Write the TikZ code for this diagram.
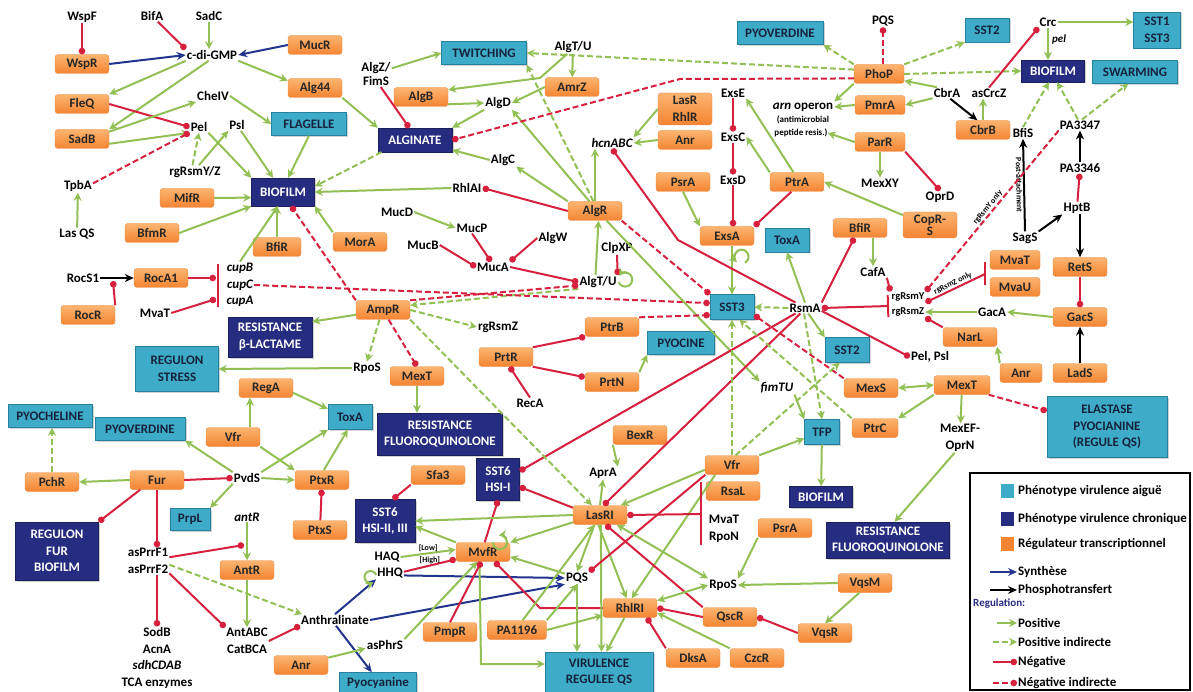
\documentclass[tikz,border=0pt]{standalone}
\usepackage{fontspec}
\setmainfont{Carlito}
\usetikzlibrary{arrows.meta,shadows}
\definecolor{vert}{RGB}{146,192,84}
\definecolor{rouge}{RGB}{214,32,62}
\definecolor{bleu}{RGB}{34,52,140}
\definecolor{oranL}{RGB}{252,180,112}
\definecolor{oranD}{RGB}{243,132,50}
\definecolor{oranB}{RGB}{236,138,66}
\definecolor{cyanF}{RGB}{62,172,200}
\definecolor{cyanB}{RGB}{38,128,158}
\definecolor{marine}{RGB}{38,44,128}
\definecolor{txtC}{RGB}{22,34,60}

\begin{document}
\begin{tikzpicture}[x=1pt,y=-1pt,
    every node/.style={font=\bfseries\fontsize{13}{16.5}\selectfont, inner sep=1pt, align=center},
    reg/.style={draw=oranB, top color=oranL, bottom color=oranD, rounded corners=3pt, minimum width=54pt, minimum height=19pt, text=black!85},
    aigu/.style={draw=cyanB, fill=cyanF, minimum width=44pt, minimum height=24pt, text=txtC, drop shadow={shadow xshift=1.5pt, shadow yshift=-1.5pt, fill=black!35}},
    chron/.style={draw=marine!70!black, fill=marine, text=white, minimum width=63pt, minimum height=24pt, drop shadow={shadow xshift=1.5pt, shadow yshift=-1.5pt, fill=black!35}},
    gene/.style={font=\bfseries\itshape\fontsize{13}{16.5}\selectfont},
    petit/.style={font=\bfseries\fontsize{10.5}{12}\selectfont},
    mini/.style={font=\bfseries\fontsize{8}{9}\selectfont, inner sep=0pt},
    act/.style={draw=vert, line width=2pt, -{Stealth[length=8pt,width=8pt]}},
    actd/.style={act, dash pattern=on 6pt off 3pt},
    inh/.style={draw=rouge, line width=2pt, -{Circle[length=6.5pt]}},
    inhd/.style={inh, dash pattern=on 6pt off 3pt},
    biact/.style={act, {Stealth[length=8pt,width=8pt]}-{Stealth[length=8pt,width=8pt]}},
    syn/.style={draw=bleu, line width=2pt, -{Stealth[length=9pt,width=8pt]}},
    pho/.style={draw=black, line width=2pt, -{Stealth[length=9pt,width=8pt]}},
    barre/.style={draw=rouge, line width=2.2pt}
]
    \fill[white] (0,0) rectangle (1193,692);
    \useasboundingbox (0,0) rectangle (1193,692);

    % haut gauche
    \node (wspF) at (82,17) {WspF};
    \node[reg] (wspR) at (82,64) {WspR};
    \node (bifA) at (152,16) {BifA};
    \node (sadC) at (209,16) {SadC};
    \node (cdiGMP) at (212,55) {c-di-GMP};
    \node[reg] (mucR) at (315,45) {MucR};
    \node[reg] (alg44) at (315,88) {Alg44};
    \node[reg] (fleQ) at (82,104) {FleQ};
    \node (cheIV) at (213,96) {CheIV};
    \node[reg] (sadB) at (82,139) {SadB};
    \node (pel) at (199,127) {Pel};
    \node (psl) at (237,125) {Psl};
    \node[aigu, minimum width=75pt, minimum height=23pt] (flagelle) at (309,124) {FLAGELLE};
    \node[chron, minimum height=28pt] (bioA) at (283,192) {BIOFILM};
    \node (rgYZ) at (195,172) {rgRsmY/Z};
    \node (tpbA) at (78,186) {TpbA};
    \node (lasQS) at (77,234) {Las QS};
    \node[reg] (mifR) at (187,198) {MifR};
    \node[reg] (bfmR) at (152,233) {BfmR};
    \node[reg, minimum width=48pt] (bfiRa) at (277,247) {BfiR};
    \node[reg] (morA) at (360,242) {MorA};

    % haut milieu
    \node (algZ) at (376,74) {AlgZ/\\[-2pt]FimS};
    \node[aigu, minimum width=85pt, minimum height=23pt] (twitch) at (484,53) {TWITCHING};
    \node (algTUa) at (573,47) {AlgT/U};
    \node[reg] (amrZ) at (572,87) {AmrZ};
    \node[reg] (algB) at (421,97) {AlgB};
    \node (algD) at (498,103) {AlgD};
    \node[chron, minimum width=74pt] (alginate) at (415,140) {ALGINATE};
    \node (algC) at (503,160) {AlgC};
    \node (rhlAI) at (467,188) {RhlAI};
    \node (mucD) at (397,212) {MucD};
    \node (mucP) at (472,228) {MucP};
    \node (mucB) at (423,245) {MucB};
    \node (mucA) at (493,267) {MucA};
    \node (algW) at (553,238) {AlgW};
    \node (clpXP) at (617,248) {ClpXP};
    \node (algTUb) at (598,282) {AlgT/U};
    \node[reg] (algR) at (595,211) {AlgR};
    \node[gene] (hcn) at (612,143) {hcnABC};
    \node[reg, minimum height=32pt] (lasRhlR) at (685,109) {LasR\\RhlR};
    \node[reg] (anrA) at (685,140) {Anr};
    \node (exsE) at (733,93) {ExsE};
    \node (exsC) at (733,137) {ExsC};
    \node (exsD) at (733,180) {ExsD};
    \node (arn) at (803,107) {\textit{arn} operon};
    \node[mini, font=\bfseries\fontsize{9}{10}\selectfont] (arnA) at (803,120) {(antimicrobial};
    \node[mini, font=\bfseries\fontsize{9}{10}\selectfont] (arnB) at (801,133) {peptide resis.)};
    \node[reg] (psrA) at (683,182) {PsrA};
    \node[reg] (ptrA) at (797,182) {PtrA};
    \node[reg] (exsA) at (727,236) {ExsA};
    \node[aigu] (toxAb) at (787,240) {ToxA};
    \node[reg] (bfiRb) at (860,228) {BfiR};
    \node (cafA) at (873,272) {CafA};
    \node[aigu, minimum height=25pt] (sst3) at (732,307) {SST3};
    \node (rsmA) at (805,308) {RsmA};
    \node[petit] (rgY) at (908,297) {rgRsmY};
    \node[petit] (rgZ) at (908,312) {rgRsmZ};
    \node[reg] (prtR) at (506,357) {PrtR};
    \node (recA) at (530,403) {RecA};
    \node[reg] (ptrB) at (612,327) {PtrB};
    \node[reg] (prtN) at (612,382) {PrtN};
    \node[aigu, minimum width=67pt, minimum height=23pt] (pyocine) at (681,343) {PYOCINE};
    \node (rgRsmZc) at (498,327) {rgRsmZ};
    \node[aigu, minimum height=25pt] (sst2b) at (847,350) {SST2};
    \node[gene] (fimTU) at (777,388) {fimTU};
    \node[reg] (mexS) at (871,388) {MexS};
    \node[aigu, minimum width=35pt, minimum height=25pt] (tfp) at (822,432) {TFP};
    \node[reg, minimum width=46pt] (ptrC) at (875,428) {PtrC};
    \node[reg] (bexR) at (640,435) {BexR};

    % haut droite
    \node[aigu, minimum width=86pt, minimum height=23pt] (pyoverdB) at (780,33) {PYOVERDINE};
    \node (pqsA) at (883,21) {PQS};
    \node[reg, minimum width=50pt] (phoP) at (879,74) {PhoP};
    \node[reg, minimum width=50pt] (pmrA) at (880,105) {PmrA};
    \node[reg, minimum width=50pt] (parR) at (880,142) {ParR};
    \node (mexXY) at (880,183) {MexXY};
    \node (oprD) at (940,197) {OprD};
    \node[reg, minimum height=26pt, font=\bfseries\fontsize{13}{12}\selectfont] (copRS) at (930,225) {CopR-\\S};
    \node[aigu] (sst2a) at (987,30) {SST2};
    \node (crc) at (1048,22) {Crc};
    \node[aigu, minimum width=47pt, minimum height=36pt] (sst13) at (1157,30) {SST1\\SST3};
    \node[gene, font=\bfseries\itshape\fontsize{11}{12}\selectfont] (pelI) at (1059,40) {pel};
    \node[chron, minimum height=22pt] (bioB) at (1053,71) {BIOFILM};
    \node[aigu, minimum width=85pt, minimum height=23pt] (swarm) at (1135,72) {SWARMING};
    \node (cbrA) at (947,93) {CbrA};
    \node (asCrcZ) at (989,93) {asCrcZ};
    \node[reg] (cbrB) at (983,130) {CbrB};
    \node (bfiS) at (1023,133) {BfiS};
    \node (pa3347) at (1080,125) {PA3347};
    \node (pa3346) at (1080,168) {PA3346};
    \node (hptB) at (1077,208) {HptB};
    \node (sagS) at (1025,238) {SagS};
    \node[reg, minimum width=50pt] (mvaTc) at (1015,260) {MvaT};
    \node[reg, minimum width=50pt] (mvaU) at (1015,287) {MvaU};
    \node[reg] (retS) at (1080,267) {RetS};
    \node[reg] (gacS) at (1080,317) {GacS};
    \node (gacA) at (992,312) {GacA};
    \node[reg] (narL) at (970,337) {NarL};
    \node (pelPsl) at (930,357) {Pel, Psl};
    \node[reg, minimum width=42pt] (anrB) at (1021,373) {Anr};
    \node[reg] (ladS) at (1080,373) {LadS};
    \node[reg, minimum width=56pt] (mexTb) at (962,385) {MexT};
    \node (mexEF) at (960,438) {MexEF-\\OprN};
    \node[aigu, minimum width=120pt, minimum height=61pt] (elastase) at (1107,427) {ELASTASE\\PYOCIANINE\\(REGULE QS)};

    % bas gauche
    \node (rocS) at (83,278) {RocS1};
    \node[reg] (rocA) at (161,278) {RocA1};
    \node[reg] (rocR) at (88,315) {RocR};
    \node (mvaTa) at (155,313) {MvaT};
    \node[gene] (cupB) at (240,268) {cupB};
    \node[gene] (cupC) at (240,285) {cupC};
    \node[gene] (cupA) at (240,301) {cupA};
    \node[chron, minimum width=84pt, minimum height=40pt] (resBeta) at (270,337) {RESISTANCE\\β-LACTAME};
    \node[reg] (ampR) at (383,310) {AmpR};
    \node[aigu, minimum width=83pt, minimum height=45pt] (regStress) at (177,369) {REGULON\\STRESS};
    \node (rpoSa) at (367,368) {RpoS};
    \node[reg] (mexTa) at (417,376) {MexT};
    \node[reg] (regA) at (266,388) {RegA};
    \node[aigu, minimum width=84pt, minimum height=23pt] (pyochel) at (50,416) {PYOCHELINE};
    \node[aigu, minimum width=90pt, minimum height=23pt] (pyoverdA) at (140,429) {PYOVERDINE};
    \node[reg] (vfrA) at (233,437) {Vfr};
    \node[aigu, minimum height=25pt] (toxAa) at (350,417) {ToxA};
    \node[chron, minimum width=125pt, minimum height=42pt] (resFluoA) at (440,434) {RESISTANCE\\FLUOROQUINOLONE};
    \node[reg] (pchR) at (52,482) {PchR};
    \node[reg] (fur) at (157,480) {Fur};
    \node (pvdS) at (247,478) {PvdS};
    \node[aigu, minimum width=40pt, minimum height=22pt] (prpL) at (190,519) {PrpL};
    \node[gene] (antRg) at (247,517) {antR};
    \node[chron, minimum width=83pt, minimum height=58pt] (regFur) at (57,551) {REGULON\\FUR\\BIOFILM};
    \node (asPrr) at (148,561) {asPrrF1\\asPrrF2};
    \node[reg] (antR) at (247,570) {AntR};
    \node (sodB) at (157,658) {SodB\\AcnA\\\textit{sdhCDAB}\\TCA enzymes};
    \node (antABC) at (247,641) {AntABC\\CatBCA};
    \node (anthr) at (335,620) {Anthralinate};
    \node[reg] (anrC) at (301,665) {Anr};
    \node (asPhrS) at (385,645) {asPhrS};
    \node[aigu, minimum width=77pt, minimum height=21pt] (pyocyan) at (378,683) {Pyocyanine};
    \node[reg] (ptxR) at (322,480) {PtxR};
    \node[reg] (ptxS) at (320,530) {PtxS};
    \node[reg] (sfa3) at (438,475) {Sfa3};
    \node[chron, minimum width=43pt, minimum height=42pt] (sst6a) at (498,479) {SST6\\HSI-I};
    \node[chron, minimum width=60pt, minimum height=43pt] (sst6b) at (385,521) {SST6\\HSI-II, III};
    \node (haq) at (387,557) {HAQ};
    \node (hhq) at (390,573) {HHQ};
    \node[reg] (mvfR) at (483,552) {MvfR};
    \node (pqsC) at (577,578) {PQS};
    \node[reg] (pmpR) at (450,632) {PmpR};
    \node[reg, minimum width=59pt] (pa1196) at (517,630) {PA1196};
    \node[aigu, minimum width=108pt, minimum height=40pt] (virQS) at (599,672) {VIRULENCE\\REGULEE QS};

    % bas droite
    \node[reg] (lasRI) at (600,515) {LasRI};
    \node (aprA) at (603,473) {AprA};
    \node[reg] (vfrB) at (732,465) {Vfr};
    \node[reg] (rsaL) at (733,491) {RsaL};
    \node (mvaTb) at (724,529) {MvaT\\RpoN};
    \node[chron, minimum height=21pt] (bioC) at (821,497) {BIOFILM};
    \node[reg] (psrB) at (785,528) {PsrA};
    \node[chron, minimum width=123pt, minimum height=36pt] (resFluoB) at (888,540) {RESISTANCE\\FLUOROQUINOLONE};
    \node (rpoSb) at (723,585) {RpoS};
    \node[reg] (vqsM) at (865,583) {VqsM};
    \node[reg] (rhlRI) at (630,608) {RhlRI};
    \node[reg] (qscR) at (730,617) {QscR};
    \node[reg] (vqsR) at (825,633) {VqsR};
    \node[reg] (dksA) at (693,658) {DksA};
    \node[reg] (czcR) at (757,658) {CzcR};

    \coordinate (rocHit) at (113,281);
    \coordinate (cupBar) at (218,285);
    \coordinate (antHit) at (244,545);
    \coordinate (mvBarB) at (701,514);
    \coordinate (mvBarC) at (985,274);
    \coordinate (rgBar) at (889,306);
    \coordinate (mvfBend) at (481,664);

    % liens haut gauche
    \draw[inh] (wspF) -- (wspR);
    \draw[syn] (wspR.east) -- (cdiGMP.west);
    \draw[inh] (bifA) -- (cdiGMP.north west);
    \draw[act] (sadC) -- (sadC |- cdiGMP.north);
    \draw[syn] (mucR.west) -- (cdiGMP.east);
    \draw[act] (cdiGMP.south east) -- (alg44.165);
    \draw[act] (cdiGMP.south west) -- (fleQ.north east);
    \draw[act] (cdiGMP.-120) -- (sadB.north east);
    \draw[inh] (fleQ.east) -- (pel.west);
    \draw[act] (sadB.15) -- (cheIV.south west);
    \draw[act] (sadB.-10) -- (pel.south west);
    \draw[act] (cheIV.east) -- (flagelle.west);
    \draw[act] (flagelle.south) -- (bioA.70);
    \draw[act] (pel.south east) -- (bioA.north west);
    \draw[act] (psl) -- (bioA.125);
    \draw[actd] (rgYZ.110) -- (pel.south);
    \draw[act] (rgYZ.60) -- (psl.south west);
    \draw[inhd] (tpbA.10) -- (pel.-150);
    \draw[act] (lasQS) -- (tpbA);
    \draw[act] (mifR.east) -- (bioA.-170);
    \draw[act] (bfmR.east) -- (bioA.south west);
    \draw[act] (cupB.north) -- (bioA.-110);
    \draw[act] (bfiRa.north) -- (bfiRa.north |- bioA.south);
    \draw[act] (morA.north west) -- (bioA.south east);
    \draw[inhd] (ampR.north west) -- (bioA.-60);
    \draw[actd] (alginate.-160) -- (bioA.10);
    \draw[act] (alg44.south east) -- (alginate.north west);
    \draw[pho] (rocS) -- (rocA);
    \draw[inh] (rocR.north east) -- (rocHit);
    \draw[barre] ([yshift=21pt]cupBar) -- ([yshift=-22pt]cupBar);
    \draw[inh] (rocA.east) -- ([xshift=-2pt]cupBar |- rocA.east);
    \draw[inh] (mvaTa.east) -- ([xshift=-2pt,yshift=-14pt]cupBar);

    % liens alginate
    \draw[act] (algZ.20) -- (twitch.west);
    \draw[inh] (algZ.-70) -- (alginate.115);
    \draw[act] (algTUa) -- (amrZ);
    \draw[act] (algTUa.-130) -- (540,78) -- (algB.15);
    \draw[act] (amrZ.west) -- (algD.east);
    \draw[act] (algB.-15) -- (algD.west);
    \draw[act] (algD.south west) -- (alginate.north east);
    \draw[act] (algC.west) -- (alginate.-15);
    \draw[act] (rhlAI.west) -- (bioA.east);
    \draw[inh] (algR.west) -- (rhlAI.east);
    \draw[act] (algR.north west) -- (algC.south east);
    \draw[act] (algR.120) -- (algD.south east);
    \draw[actd] (algR.100) -- (twitch.south east);
    \draw[act] (mucD.east) -- (mucP.west);
    \draw[inh] (mucB.east) -- (mucA.west);
    \draw[inh] (mucP.south) -- (mucA.110);
    \draw[inh] (algW.west) -- (mucA.north east);
    \draw[inh] (mucA.east) -- (algTUb.west);
    \draw[inh] (clpXP.south) -- (algTUb.north east);
    \draw[act] (algTUb.110) -- (algR.-70);
    \draw[act] ([xshift=1pt]algTUb.east) arc[start angle=160, end angle=-150, radius=7];
    \draw[actd] (algTUb.south west) -- (ampR.10);
    \draw[inhd] (ampR.north east) -- (algTUb.-170);
    \draw[inhd] (cupC.east) -- (sst3.170);

    % liens PhoP
    \draw[actd] (phoP.170) -- (twitch.east);
    \draw[inhd] (phoP.190) -- (680,79) -- (alginate.east);
    \draw[actd] (phoP.north west) -- (pyoverdB.south east);
    \draw[inhd] (pqsA.south |- phoP.north) -- (pqsA.south);
    \draw[actd] (phoP.north east) -- (sst2a.south west);
    \draw[actd] (phoP.east) -- (bioB.west);
    \draw[act] (phoP.south west) -- (arn.north east);
    \draw[act] (pmrA.west) -- (arn.east);
    \draw[act] (parR.west) -- (arnB.east);
    \draw[act] (parR) -- (mexXY);
    \draw[inh] (parR.south east) -- (oprD.north);
    \draw[act] (cbrA.150) -- (phoP.-15);
    \draw[act] (cbrA.-160) -- (pmrA.east);
    \draw[pho] (cbrA.-60) -- (cbrB.120);
    \draw[act] (cbrB.north) -- (cbrB.north |- asCrcZ.south);
    \draw[inh] (asCrcZ.north) -- (crc.south west);
    \draw[act] (crc.east) -- (sst13.west |- crc.east);
    \draw[act] (crc.south) -- (crc.south |- bioB.north);
    \draw[actd] (bfiS.north) -- (bioB.-110);
    \draw[actd] (pa3347.110) -- (bioB.-70);
    \draw[actd] (pa3347.70) -- (swarm.-120);
    \draw[pho] (pa3346) -- (pa3347);
    \draw[inh] (hptB) -- (pa3346);
    \draw[pho] (sagS.north) -- node[mini, sloped, below=1pt] {Post-attachment} (bfiS.south);
    \draw[pho] (sagS.north east) -- (hptB.south west);
    \draw[pho] (retS.north |- hptB.south) -- (retS.north);
    \draw[inh] (retS) -- (gacS);
    \draw[pho] (ladS) -- (gacS);
    \draw[act] (gacS.west) -- (gacA.east);
    \draw[act] (gacA.west) -- (rgZ.east);
    \draw[barre] ([yshift=12pt]mvBarC) -- ([yshift=-11pt]mvBarC);
    \draw[inh] (mvBarC) -- node[mini, sloped, above=1pt] {rgRsmZ only} (rgY.south east);
    \draw[inh] (narL.north west) -- (rgZ.south east);
    \draw[inhd] (pa3347.south west) -- node[mini, sloped, above=1pt, pos=0.5] {rgRsmY only} (rgY.north east);
    \draw[inh] (cafA.south east) -- (rgY.north west);
    \draw[act] (cafA.north |- bfiRb.south) -- (cafA.north);
    \draw[act] (anrB.north west) -- (narL.south east);

    % liens Exs et RsmA
    \draw[act] (lasRhlR.west) -- (hcn.north east);
    \draw[act] (anrA.west) -- (hcn.east);
    \draw[act] (algR.north) -- (algR.north |- hcn.south);
    \draw[inh] (exsE) -- (exsC);
    \draw[inh] (exsC) -- (exsD);
    \draw[inh] (exsD) -- (exsD |- exsA.north);
    \draw[act] (ptrA.110) -- (exsE.south east);
    \draw[act] (ptrA.north west) -- (exsC.east);
    \draw[inh] (ptrA.-120) -- (exsA.north east);
    \draw[act] (psrA.south) -- (exsA.north west);
    \draw[act] (copRS.160) -- (ptrA.east);
    \draw[act] (sst3.north |- exsA.south) -- (sst3.north);
    \draw[act] ([xshift=18pt,yshift=-17pt]exsA.south) arc[start angle=60, end angle=-230, radius=7];
    \draw[inhd] (algR.-20) -- (sst3.150);
    \draw[act] (algR.-40) -- (fimTU.north west);
    \draw[act] (fimTU.south east) -- (tfp.north west);
    \draw[inh] (rsmA.north east) -- (bfiRb.-120);
    \draw[inh, {Bar[width=22pt]}-{Circle[length=6.5pt]}] (rgBar) -- (rsmA.east);
    \draw[inh] (rsmA.-10) -- (pelPsl.west);
    \draw[act] (rsmA.north) -- (toxAb.south);
    \draw[act] (rsmA.-60) -- (sst2b.north west);
    \draw[actd] (rsmA.west) -- (sst3.east);
    \draw[actd] (rsmA.-100) -- (tfp.north);
    \draw[inh] (rsmA.-150) -- (sst6a.20);
    \draw[inh] (rsmA.-130) -- (lasRI.70);
    \draw[inh] (rsmA.150) -- (678,240) -- (hcn.south);
    \draw[inh] (prtR.20) -- (ptrB.-160);
    \draw[inh] (prtR.-20) -- (prtN.170);
    \draw[inh] (recA.north) -- (prtR.-70);
    \draw[act] (prtN.north east) -- (pyocine.south west);
    \draw[inhd] (ptrB.north east) -- (sst3.-160);
    \draw[biact] (mexTb.west) -- (mexS.east);
    \draw[act] (mexTb.south west) -- (ptrC.north east);
    \draw[inhd] (mexTb.-20) -- (elastase.165);
    \draw[act] (mexTb) -- (mexEF);
    \draw[act] (mexEF.-110) -- (resFluoB.70);
    \draw[inhd] (mexS.north west) -- (sst3.-20);
    \draw[actd] (ptrC.north west) -- (sst3.-60);
    \draw[act] (tfp) -- (bioC);
    \draw[act] (vfrB.north east) -- (tfp.-160);
    \draw[actd] (vfrB.70) -- (sst2b.-120);
    \draw[actd] (vfrB.north) -- (sst3.south);

    % liens AmpR
    \draw[act] (ampR.-170) -- (resBeta.20);
    \draw[actd] (ampR.-110) -- (rpoSa.north);
    \draw[inhd] (ampR.-60) -- (mexTa.north);
    \draw[actd] (ampR.east) -- (rgRsmZc.west);
    \draw[act] (rpoSa.west) -- (regStress.east);
    \draw[act] (mexTa.south) -- (mexTa.south |- resFluoA.north);
    \draw[actd] (ampR.south east) -- (lasRI.130);

    % liens Fur et PvdS
    \draw[act] (fur.west) -- (pchR.east);
    \draw[inh] (fur.-150) -- (regFur.north east);
    \draw[inh] (fur.east) -- (pvdS.west);
    \draw[inh] (fur.south) -- (fur.south |- asPrr.north);
    \draw[actd] (pchR) -- (pyochel.south -| pchR);
    \draw[act] (pvdS.north west) -- (pyoverdA.south east);
    \draw[act] (pvdS.south west) -- (prpL.north east);
    \draw[act] (pvdS.east) -- (ptxR.west);
    \draw[act] (pvdS.north east) -- (toxAa.south west);
    \draw[act] (vfrA.south east) -- (ptxR.north west);
    \draw[act] ([xshift=17pt]vfrA.north) -- ([xshift=17pt]vfrA.north |- regA.south);
    \draw[act] (regA.-10) -- (toxAa.160);
    \draw[act] (ptxR.80) -- (toxAa.-100);
    \draw[inh] (ptxS) -- (ptxR);
    \draw[act] (antRg) -- (antR);
    \draw[inh] (asPrr.10) -- (antHit);
    \draw[act] (antR) -- (antR |- antABC.north);
    \draw[inh] (sodB.north |- asPrr.south) -- (sodB.north);
    \draw[inh] (asPrr.-30) -- (antABC.north west);
    \draw[actd] (asPrr.-10) -- (anthr.170);
    \draw[inh] (antABC.east) -- (anthr.south west);

    % liens MvfR et PQS
    \draw[syn] (anthr.north) -- (hhq.south west);
    \draw[syn] (anthr.east) -- (pqsC.south west);
    \draw[syn] (anthr.-80) -- (pyocyan.120);
    \draw[syn] (hhq.-10) -- (pqsC.west);
    \draw[act] (haq.east) -- node[mini, above=1pt] {[Low]} (mvfR.175);
    \draw[inh] (hhq.5) -- node[mini, above=1pt] {[High]} (mvfR.-165);
    \draw[act] ([yshift=-2pt]hhq.west) arc[start angle=-20, end angle=-300, radius=6];
    \draw[act] (anrC.15) -- (asPhrS.-170);
    \draw[act] (asPhrS.north east) -- (mvfR.-120);
    \draw[inh] (sfa3.south west) -- (sst6b.70);
    \draw[act] (mvfR.north west) -- (sst6b.-10);
    \draw[inh] (mvfR.80) -- (sst6a.south);
    \draw[act] ([xshift=10pt]mvfR.north) arc[start angle=180, end angle=-100, radius=7];
    \draw[act] (mvfR.-110) -- (mvfBend) -- (virQS.west |- mvfBend);
    \draw[inh] (pmpR.north) -- (mvfR.-100);
    \draw[inh] (rhlRI.west) -- (540,608) -- (mvfR.-40);
    \draw[act] (pqsC.160) -- (mvfR.-10);
    \draw[act] (pa1196.north east) -- (pqsC.south);
    \draw[act] (pa1196.60) -- (lasRI.-120);
    \draw[act] (pa1196.east) -- (rhlRI.-165);
    \draw[act] (pqsC.south) -- (pqsC.south |- virQS.north);

    % liens LasRI et RhlRI
    \draw[act] (lasRI.west) -- (sst6b.east);
    \draw[inh] (lasRI.165) -- (sst6a.-20);
    \draw[act] (lasRI.-165) -- (mvfR.north east);
    \draw[act] (lasRI.-120) -- (pqsC.north);
    \draw[act] (lasRI.-85) -- (virQS.83);
    \draw[act] (lasRI.-100) -- (rhlRI.110);
    \draw[act] (lasRI.north) -- (aprA.south);
    \draw[act] (bexR.south west) -- (aprA.north east);
    \draw[act] (vfrB.-170) -- (lasRI.25);
    \draw[act] (vfrB.-150) -- (rhlRI.80);
    \draw[inh] (vfrB.-160) -- (pqsC.north east);
    \draw[barre] ([yshift=32pt]mvBarB) -- ([yshift=-31pt]mvBarB);
    \draw[inh] (mvBarB) -- (lasRI.east);
    \draw[act] (psrB.south west) -- (rpoSb.north east);
    \draw[act] (vqsM.west) -- (rpoSb.east);
    \draw[act] (vqsM.-120) -- (vqsR.north);
    \draw[inh] (vqsR.west) -- (qscR.east);
    \draw[inh] (qscR.west) -- (rhlRI.east);
    \draw[inh] (qscR.north west) -- (lasRI.-60);
    \draw[biact] (lasRI.-30) -- (rpoSb.north west);
    \draw[biact] (rhlRI.15) -- (rpoSb.west);
    \draw[inh] (dksA.north west) -- (rhlRI.-30);
    \draw[act] (czcR.north west) -- (rhlRI.-10);
    \draw[act] (rhlRI.-120) -- (virQS.70);

    % legende
    \draw[line width=1.2pt] (970,473) rectangle (1190,690);
    \node[anchor=west] (lgA) at (1017,491) {Phénotype virulence aiguë};
    \node[anchor=west] (lgB) at (1017,519) {Phénotype virulence chronique};
    \node[anchor=west] (lgC) at (1017,544) {Régulateur transcriptionnel};
    \node[anchor=west] (lgD) at (1017,572) {Synthèse};
    \node[anchor=west] (lgE) at (1017,590) {Phosphotransfert};
    \node[anchor=west, text=marine, font=\bfseries\fontsize{11}{12}\selectfont] (lgF) at (972,604) {Regulation:};
    \node[anchor=west] (lgG) at (1017,623) {Positive};
    \node[anchor=west] (lgH) at (1017,642) {Positive indirecte};
    \node[anchor=west] (lgI) at (1017,662) {Négative};
    \node[anchor=west] (lgJ) at (1017,683) {Négative indirecte};
    \fill[cyanF] ([xshift=-16pt,yshift=7pt]lgA.west) rectangle ([xshift=-3pt,yshift=-7pt]lgA.west);
    \fill[marine] ([xshift=-16pt,yshift=7pt]lgB.west) rectangle ([xshift=-3pt,yshift=-7pt]lgB.west);
    \fill[oranD] ([xshift=-16pt,yshift=7pt]lgC.west) rectangle ([xshift=-3pt,yshift=-7pt]lgC.west);
    \draw[syn] ([xshift=-27pt]lgD.west) -- (lgD.west);
    \draw[pho] ([xshift=-27pt]lgE.west) -- (lgE.west);
    \draw[act] ([xshift=-20pt]lgG.west) -- (lgG.west);
    \draw[actd] ([xshift=-24pt]lgH.west) -- (lgH.west);
    \draw[inh] ([xshift=-24pt]lgI.west) -- (lgI.west);
    \draw[inhd] ([xshift=-24pt]lgJ.west) -- (lgJ.west);
\end{tikzpicture}
\end{document}
